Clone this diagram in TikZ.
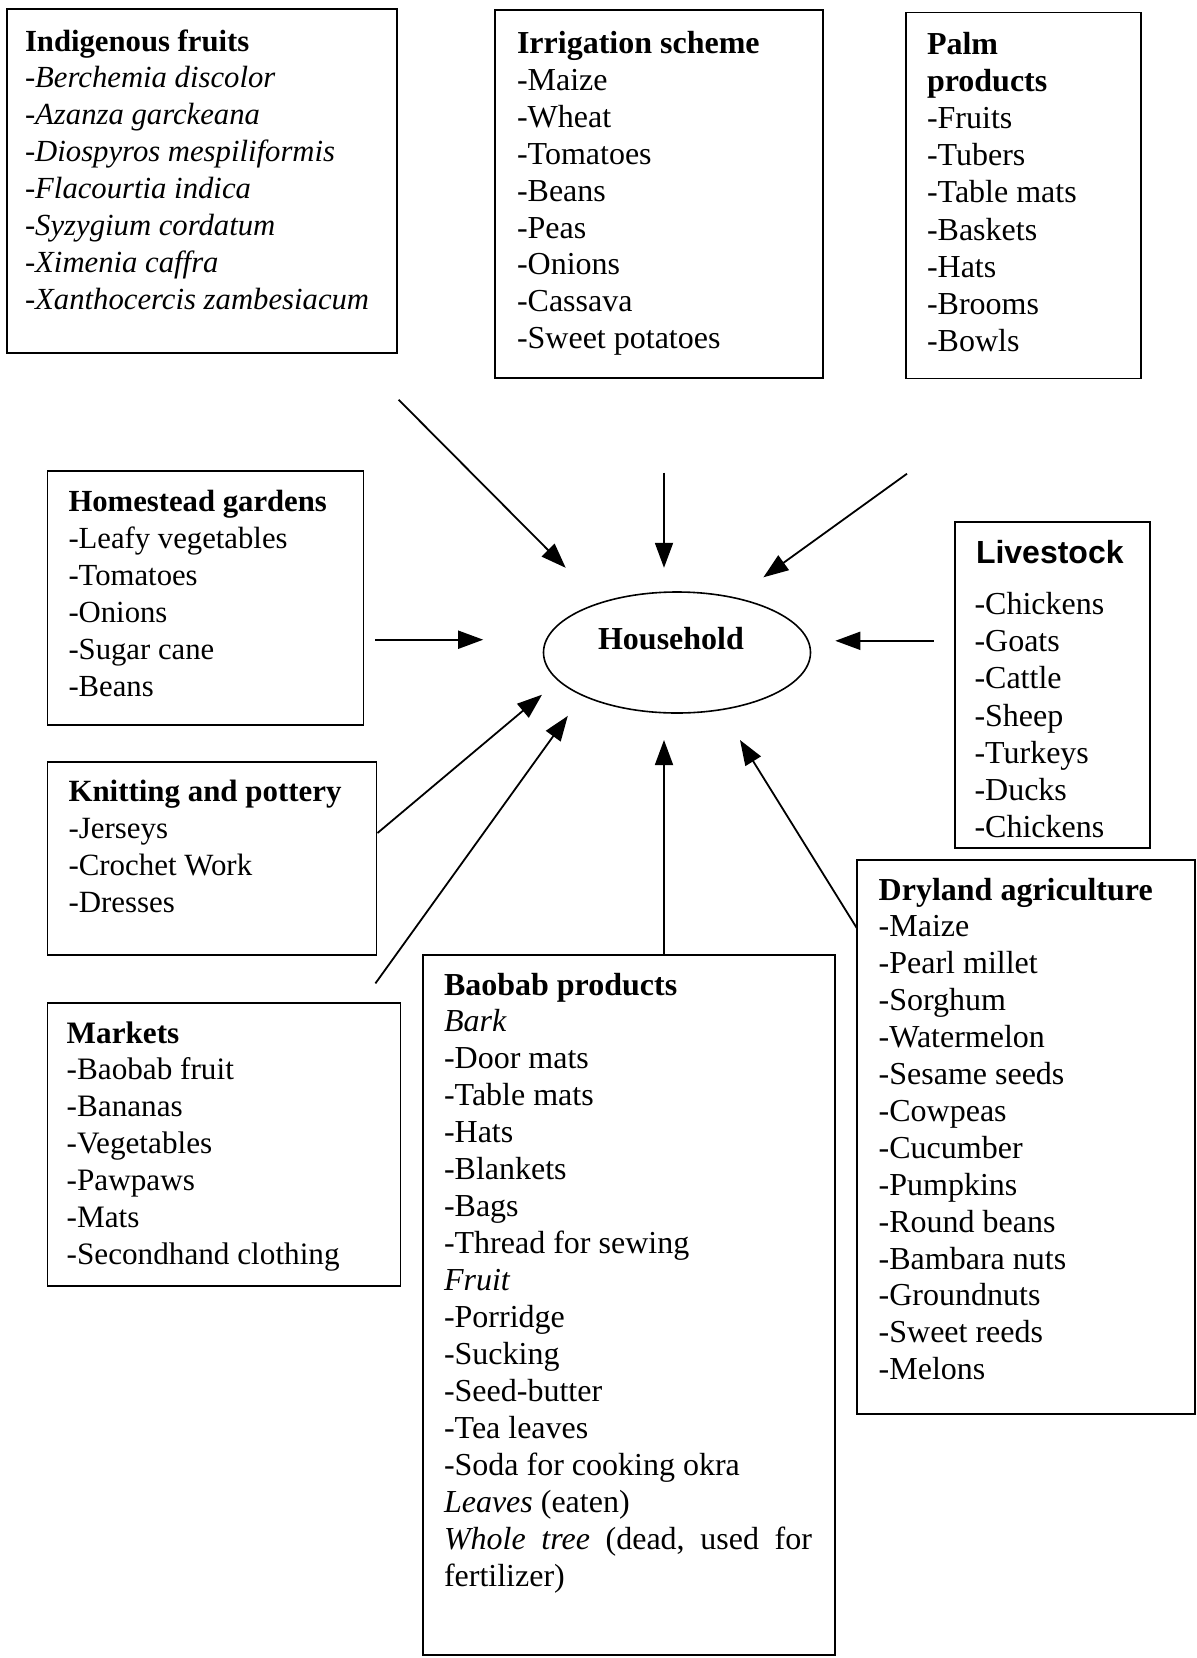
\documentclass[tikz,border=0pt]{standalone}
\usepackage{fontspec}
\setmainfont{Liberation Serif}
\newfontfamily\arialfont{Liberation Sans}
\usetikzlibrary{arrows.meta,shapes.geometric}
\newcommand\ListLines[1]{\vtop{\halign{##\hfil\cr#1\crcr}}}
\newcommand\fs[1]{\fontsize{#1}{36.9}\selectfont}
\begin{document}
\begin{tikzpicture}[x=1pt,y=-1pt,
  box/.style={draw, rectangle, line width=1.6pt, inner sep=0pt, outer sep=0pt, anchor=north west},
  txt/.style={anchor=base west, inner sep=0pt, outer sep=0pt},
  hh/.style={draw, ellipse, line width=1.6pt, inner sep=0pt, minimum width=267pt, minimum height=121pt,
    font=\fontsize{32}{36}\selectfont\bfseries, text height=21pt, text depth=28pt},
  arr/.style={line width=1.8pt, -{Triangle[length=25pt,width=18pt]}}]
\useasboundingbox (0,0) rectangle (1197,1658);

% boxes
\node[box, minimum width=390pt, minimum height=344pt] (ind) at (7,9) {};
\node[box, minimum width=328pt, minimum height=368pt] (irr) at (495,10) {};
\node[box, minimum width=235pt, minimum height=366pt] (palm) at (906,12.5) {};
\node[box, minimum width=316pt, minimum height=254pt] (home) at (47.5,471) {};
\node[box, minimum width=329pt, minimum height=193pt] (knit) at (47.5,762) {};
\node[box, minimum width=195pt, minimum height=326pt] (live) at (955,522) {};
\node[box, minimum width=353pt, minimum height=283pt] (mark) at (47.5,1003) {};
\node[box, minimum width=412pt, minimum height=700pt] (baob) at (423,955) {};
\node[box, minimum width=338pt, minimum height=554pt] (dry) at (857,860) {};

% texts
\node[txt, font=\fs{30.7}] (indT) at (25,51) {\ListLines{%
\textbf{Indigenous fruits}\cr
\textit{-Berchemia discolor}\cr
\textit{-Azanza garckeana}\cr
\textit{-Diospyros mespiliformis}\cr
\textit{-Flacourtia indica}\cr
\textit{-Syzygium cordatum}\cr
\textit{-Ximenia caffra}\cr
\textit{-Xanthocercis zambesiacum}}};

\node[txt, font=\fs{32}] (irrT) at (517,53.5) {\ListLines{%
\textbf{Irrigation scheme}\cr
-Maize\cr -Wheat\cr -Tomatoes\cr -Beans\cr -Peas\cr -Onions\cr -Cassava\cr -Sweet potatoes}};

\node[txt, font=\fontsize{32}{37.1}\selectfont] (palmT) at (927,54.5) {\ListLines{%
\textbf{Palm}\cr \textbf{products}\cr
-Fruits\cr -Tubers\cr -Table mats\cr -Baskets\cr -Hats\cr -Brooms\cr -Bowls}};

\node[txt, font=\fs{30.7}] (homeT) at (68.5,511.5) {\ListLines{%
\textbf{Homestead gardens}\cr
-Leafy vegetables\cr -Tomatoes\cr -Onions\cr -Sugar cane\cr -Beans}};

\node[txt, font=\fs{30.9}] (knitT) at (68.5,801.5) {\ListLines{%
\textbf{Knitting and pottery}\cr
-Jerseys\cr -Crochet Work\cr -Dresses}};

\node[txt, font=\fontsize{32}{37.15}\selectfont] (liveT) at (976,563) {\ListLines{%
{\arialfont\bfseries Livestock}\cr\noalign{\vskip 14.5pt}
\hskip-1.5pt-Chickens\cr \hskip-1.5pt-Goats\cr \hskip-1.5pt-Cattle\cr \hskip-1.5pt-Sheep\cr
\hskip-1.5pt-Turkeys\cr \hskip-1.5pt-Ducks\cr \hskip-1.5pt-Chickens}};

\node[txt, font=\fs{31.2}] (markT) at (66.7,1043) {\ListLines{%
\textbf{Markets}\cr
-Baobab fruit\cr -Bananas\cr -Vegetables\cr -Pawpaws\cr -Mats\cr -Secondhand clothing}};

\node[txt, font=\fontsize{32}{36.97}\selectfont] (baobT) at (444,995) {\ListLines{%
\textbf{Baobab products}\cr
\textit{Bark}\cr
-Door mats\cr -Table mats\cr -Hats\cr -Blankets\cr -Bags\cr -Thread for sewing\cr
\textit{Fruit}\cr
-Porridge\cr -Sucking\cr -Seed-butter\cr -Tea leaves\cr -Soda for cooking okra\cr
\textit{Leaves} (eaten)\cr
\hbox to 368pt{\textit{Whole}\hfill\textit{tree}\hfill(dead,\hfill used\hfill for}\cr
fertilizer)}};

\node[txt, font=\fs{32}] (dryT) at (878.7,900) {\ListLines{%
\textbf{Dryland agriculture}\cr
-Maize\cr -Pearl millet\cr -Sorghum\cr -Watermelon\cr -Sesame seeds\cr -Cowpeas\cr
-Cucumber\cr -Pumpkins\cr -Round beans\cr -Bambara nuts\cr -Groundnuts\cr -Sweet reeds\cr -Melons}};

% household
\node[hh] (house) at (677,652.5) {Household\rule{12pt}{0pt}};

% connector ends
\coordinate (s1) at (398.6,399.7); \coordinate (e1) at (565.7,567.8);
\coordinate (s2) at (664,472.7);   \coordinate (e2) at (664,567.8);
\coordinate (s3) at (907,473.7);   \coordinate (e3) at (763.4,577.3);
\coordinate (s4) at (375.4,639.7); \coordinate (e4) at (483.2,639.7);
\coordinate (s5) at (933.7,640.8); \coordinate (e5) at (835.3,640.8);
\coordinate (s6) at (377.5,833);   \coordinate (e6) at (542,694.7);
\coordinate (s7) at (375.4,983.4); \coordinate (e7) at (567.8,715.9);
\coordinate (s8) at (664,955);     \coordinate (e8) at (664,740);
\coordinate (s9) at (857,928.4);   \coordinate (e9) at (740,740);

\draw[arr] (s1) -- (e1);
\draw[arr] (s2) -- (e2);
\draw[arr] (s3) -- (e3);
\draw[arr] (s4) -- (e4);
\draw[arr] (s5) -- (e5);
\draw[arr] (s6) -- (e6);
\draw[arr] (s7) -- (e7);
\draw[arr] (s8) -- (e8);
\draw[arr] (s9) -- (e9);
\end{tikzpicture}
\end{document}
